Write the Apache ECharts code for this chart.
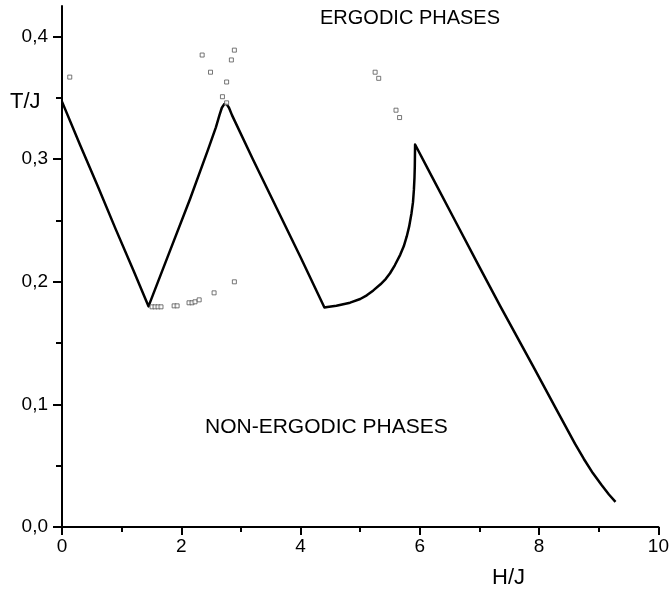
<!DOCTYPE html>
<html>
<head>
<meta charset="utf-8">
<script src="https://cdn.jsdelivr.net/npm/echarts@6/dist/echarts.min.js"></script>
<style>
  html, body { margin: 0; padding: 0; background: #fff; }
  #chart { width: 672px; height: 597px; }
</style>
</head>
<body>
<div id="chart"></div>
<script>
// Phase boundary T/J versus H/J (solid line)
const boundaryH = [0, 0.3, 0.6, 0.9, 1.2, 1.45,
  1.8, 2.15, 2.45, 2.58, 2.64, 2.68, 2.72, 2.76, 2.80, 2.85,
  3.2, 3.6, 4.0, 4.4,
  4.45, 4.6, 4.83, 5.0, 5.11, 5.22, 5.34, 5.43, 5.5, 5.58, 5.67, 5.73, 5.78,
  5.82, 5.86, 5.885, 5.9, 5.91, 5.915, 5.92,
  6.2, 6.6, 7.0, 7.35, 7.9, 8.3, 8.6, 8.75, 8.9, 9.05, 9.17, 9.28];
const boundaryT = [0.347, 0.312, 0.278, 0.243, 0.209, 0.180,
  0.224, 0.268, 0.308, 0.326, 0.336, 0.342, 0.345, 0.345, 0.342, 0.336,
  0.300, 0.260, 0.220, 0.179,
  0.1795, 0.1805, 0.183, 0.186, 0.189, 0.193, 0.198, 0.2025, 0.207, 0.2135, 0.222, 0.229, 0.237,
  0.245, 0.256, 0.265, 0.275, 0.285, 0.294, 0.312,
  0.286, 0.249, 0.212, 0.180, 0.131, 0.095, 0.068, 0.0555, 0.044, 0.034, 0.0265, 0.0205];

// Individual simulation points (small open squares)
const pointsH = [0.13, 2.35, 2.89, 2.84, 2.49, 2.76, 2.69, 2.76,
  1.51, 1.56, 1.61, 1.66, 1.88, 1.93, 2.13, 2.18, 2.23, 2.30, 2.55, 2.89,
  5.25, 5.31, 5.60, 5.66];
const pointsT = [0.367, 0.385, 0.389, 0.381, 0.371, 0.363, 0.351, 0.346,
  0.1796, 0.1796, 0.1796, 0.1796, 0.1804, 0.1804, 0.1829, 0.1829, 0.1837, 0.1853, 0.191, 0.200,
  0.371, 0.366, 0.340, 0.334];

// Axis ticks
const xTicks = [0, 2, 4, 6, 8, 10];
const yMajorTicks = [0, 0.1, 0.2, 0.3, 0.4];
const yMinorTicks = [0.05, 0.15, 0.25, 0.35];

const FONT = '"Liberation Sans", Arial, sans-serif';

const chart = echarts.init(document.getElementById('chart'), null, { renderer: 'canvas' });

const zip = (a, b) => a.map((v, i) => [v, b[i]]);

chart.setOption({
  animation: false,
  backgroundColor: '#ffffff',
  grid: { left: 62, right: 13, top: 6, bottom: 70, containLabel: false },
  xAxis: {
    type: 'value',
    min: 0, max: 10, interval: 2,
    axisLine: { show: true, onZero: false, lineStyle: { color: '#000', width: 2 } },
    axisTick: { show: true, inside: false, length: 8, lineStyle: { color: '#000', width: 2 } },
    minorTick: { show: true, splitNumber: 2, length: 5, lineStyle: { color: '#000', width: 2 } },
    splitLine: { show: false },
    axisLabel: {
      margin: 10, color: '#000', fontFamily: FONT, fontSize: 19,
      formatter: v => xTicks.includes(v) ? String(v) : ''
    }
  },
  yAxis: [{
    type: 'value',
    min: 0, max: 0.425,
    axisLine: { show: true, onZero: false, lineStyle: { color: '#000', width: 2 } },
    axisTick: { show: true, inside: false, length: 9, customValues: yMajorTicks,
      lineStyle: { color: '#000', width: 2 } },
    splitLine: { show: false },
    axisLabel: {
      margin: 14, color: '#000', fontFamily: FONT, fontSize: 19,
      customValues: yMajorTicks,
      formatter: v => v.toFixed(1).replace('.', ',')
    }
  }, {
    type: 'value',
    position: 'left',
    min: 0, max: 0.425,
    axisLine: { show: false },
    axisTick: { show: true, inside: false, length: 6, customValues: yMinorTicks,
      lineStyle: { color: '#000', width: 2 } },
    splitLine: { show: false },
    axisLabel: { show: false }
  }],
  series: [{
    type: 'line',
    data: zip(boundaryH, boundaryT),
    showSymbol: false,
    smooth: false,
    lineStyle: { color: '#000', width: 2.5, join: 'round' },
    z: 3
  }, {
    type: 'scatter',
    data: zip(pointsH, pointsT),
    symbol: 'rect',
    symbolSize: 4,
    itemStyle: { color: '#fff', borderColor: '#555', borderWidth: 1 },
    z: 4
  }],
  graphic: [
    { type: 'text', left: 10, top: 91,
      style: { text: 'T/J', fontFamily: FONT, fontSize: 22, fill: '#000' } },
    { type: 'text', left: 492, top: 567,
      style: { text: 'H/J', fontFamily: FONT, fontSize: 22, fill: '#000' } },
    { type: 'text', left: 320, top: 8,
      style: { text: 'ERGODIC PHASES', fontFamily: FONT, fontSize: 20, fill: '#000' } },
    { type: 'text', left: 205, top: 417,
      style: { text: 'NON-ERGODIC PHASES', fontFamily: FONT, fontSize: 21, fill: '#000' } }
  ]
});
</script>
</body>
</html>
